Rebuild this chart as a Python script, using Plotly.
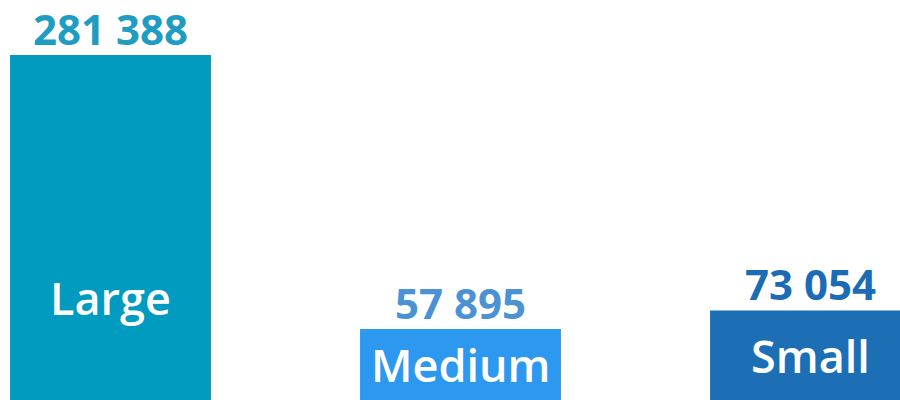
import plotly.graph_objects as go

# Company size segments and their counts
categories = ["Large", "Medium", "Small"]
values = [281388, 57895, 73054]

bar_colors = ["#009bbf", "#2d98ef", "#1d6fb5"]
label_colors = ["#1e9cc2", "#4a92d4", "#1b6cb5"]

FONT = "Open Sans"
y_max = 326247          # top of the value axis
name_level = 84010      # highest point at which a segment name is placed

fig = go.Figure(
    go.Bar(
        x=categories,
        y=values,
        marker=dict(color=bar_colors, line=dict(width=0)),
        width=0.574,
        hoverinfo="skip",
    )
)

def fmt(v):
    return f"{v:,}".replace(",", " ")

for cat, val, col in zip(categories, values, label_colors):
    # value written just above the bar
    fig.add_annotation(
        x=cat,
        y=val,
        text=fmt(val),
        showarrow=False,
        font=dict(family=FONT, size=42, color=col, weight=700),
        xanchor="center",
        yanchor="bottom",
        yshift=-4,
    )
    # segment name written in white inside the bar
    fig.add_annotation(
        x=cat,
        y=min(val / 2, name_level),
        text=cat,
        showarrow=False,
        font=dict(family=FONT, size=45, color="white", weight=600),
        xanchor="center",
        yanchor="middle",
    )

fig.update_layout(
    width=900,
    height=400,
    margin=dict(l=0, r=0, t=0, b=0),
    paper_bgcolor="white",
    plot_bgcolor="white",
    showlegend=False,
    xaxis=dict(visible=False, range=[-0.3157, 2.2557]),
    yaxis=dict(visible=False, range=[0, y_max]),
)

fig.write_html("out.html")
